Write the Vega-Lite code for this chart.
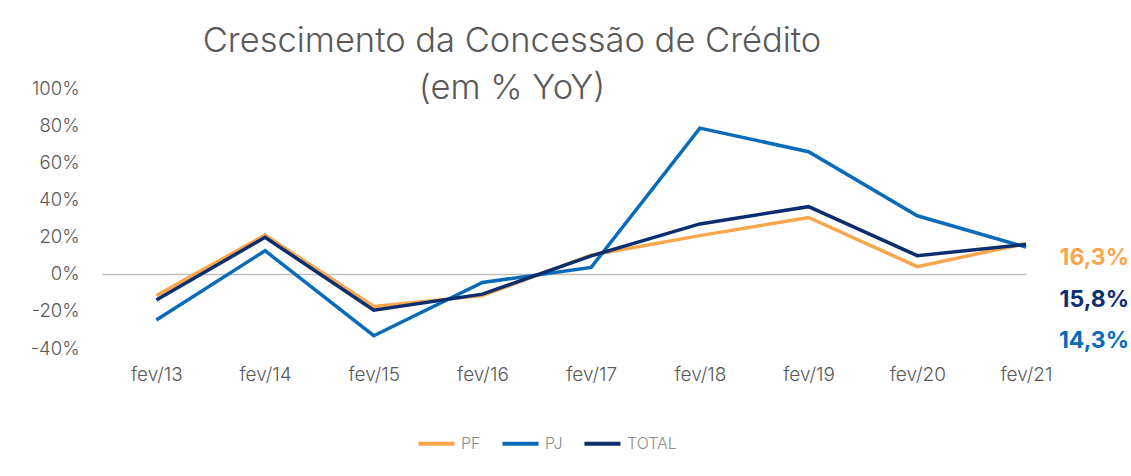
{
  "$schema": "https://vega.github.io/schema/vega-lite/v6.json",
  "width": 924,
  "height": 260,
  "autosize": {"type": "none"},
  "padding": {"left": 102, "top": 88, "right": 105, "bottom": 128},
  "background": "white",
  "config": {"view": {"stroke": null}, "font": "Inter"},
  "title": {
    "text": ["Crescimento da Concessão de Crédito", "(em % YoY)"],
    "fontSize": 34.5,
    "fontWeight": 300,
    "color": "#595959",
    "lineHeight": 47,
    "anchor": "middle",
    "dx": -52,
    "offset": -27
  },
  "data": {
    "values": [
      {"ano": 2013, "serie": "PF", "valor": -11.8},
      {"ano": 2014, "serie": "PF", "valor": 20.8},
      {"ano": 2015, "serie": "PF", "valor": -17.6},
      {"ano": 2016, "serie": "PF", "valor": -11.8},
      {"ano": 2017, "serie": "PF", "valor": 10.0},
      {"ano": 2018, "serie": "PF", "valor": 20.5},
      {"ano": 2019, "serie": "PF", "valor": 30.3},
      {"ano": 2020, "serie": "PF", "valor": 3.8},
      {"ano": 2021, "serie": "PF", "valor": 16.3},
      {"ano": 2013, "serie": "PJ", "valor": -24.9},
      {"ano": 2014, "serie": "PJ", "valor": 12.4},
      {"ano": 2015, "serie": "PJ", "valor": -33.4},
      {"ano": 2016, "serie": "PJ", "valor": -4.7},
      {"ano": 2017, "serie": "PJ", "valor": 3.4},
      {"ano": 2018, "serie": "PJ", "valor": 78.4},
      {"ano": 2019, "serie": "PJ", "valor": 65.7},
      {"ano": 2020, "serie": "PJ", "valor": 31.2},
      {"ano": 2021, "serie": "PJ", "valor": 14.3},
      {"ano": 2013, "serie": "TOTAL", "valor": -14.2},
      {"ano": 2014, "serie": "TOTAL", "valor": 19.6},
      {"ano": 2015, "serie": "TOTAL", "valor": -19.6},
      {"ano": 2016, "serie": "TOTAL", "valor": -11.0},
      {"ano": 2017, "serie": "TOTAL", "valor": 9.6},
      {"ano": 2018, "serie": "TOTAL", "valor": 26.8},
      {"ano": 2019, "serie": "TOTAL", "valor": 36.1},
      {"ano": 2020, "serie": "TOTAL", "valor": 9.7},
      {"ano": 2021, "serie": "TOTAL", "valor": 15.8}
    ]
  },
  "encoding": {
    "x": {
      "field": "ano",
      "type": "quantitative",
      "scale": {"domain": [2012.5, 2021], "nice": false, "zero": false},
      "axis": {
        "title": null,
        "values": [2013, 2014, 2015, 2016, 2017, 2018, 2019, 2020, 2021],
        "labelExpr": "'fev/' + slice(toString(datum.value), 2)",
        "labelFlush": false,
        "labelBound": false,
        "grid": false,
        "domain": false,
        "ticks": false,
        "labelFontSize": 19,
        "labelFontWeight": 300,
        "labelColor": "#595959",
        "labelPadding": 17
      }
    },
    "y": {
      "field": "valor",
      "type": "quantitative",
      "scale": {"domain": [-40, 100], "nice": false, "zero": false},
      "axis": {
        "title": null,
        "values": [-40, -20, 0, 20, 40, 60, 80, 100],
        "labelExpr": "datum.value + '%'",
        "domain": false,
        "ticks": false,
        "grid": true,
        "gridColor": "#bfbfbf",
        "gridWidth": 1.5,
        "gridOpacity": {"condition": {"test": "datum.value === 0", "value": 1}, "value": 0},
        "labelFontSize": 18.5,
        "labelFontWeight": 300,
        "labelColor": "#595959",
        "labelPadding": 23
      }
    }
  },
  "layer": [
    {
      "mark": {"type": "line", "strokeWidth": 3.5},
      "encoding": {
        "color": {
          "field": "serie",
          "type": "nominal",
          "scale": {"domain": ["PF", "PJ", "TOTAL"], "range": ["#F9A54B", "#0A6BB8", "#0B2E6F"]},
          "legend": {
            "title": null,
            "orient": "none",
            "legendX": 314,
            "legendY": 335,
            "direction": "horizontal",
            "symbolType": "stroke",
            "symbolStrokeWidth": 4,
            "symbolSize": 1300,
            "labelFontSize": 16,
            "labelFontWeight": 300,
            "labelColor": "#8c8c8c",
            "labelOffset": 4,
            "columnPadding": 13
          }
        }
      }
    },
    {
      "transform": [
        {"filter": "datum.ano === 2021 && datum.serie === 'PF'"},
        {"calculate": "replace(format(datum.valor, '.1f'), '.', ',') + '%'", "as": "rotulo"}
      ],
      "mark": {"type": "text", "align": "right", "baseline": "middle", "dx": 103, "dy": 15, "fontSize": 23, "fontWeight": "bold", "color": "#F9A54B"},
      "encoding": {"text": {"field": "rotulo"}}
    },
    {
      "transform": [
        {"filter": "datum.ano === 2021 && datum.serie === 'TOTAL'"},
        {"calculate": "replace(format(datum.valor, '.1f'), '.', ',') + '%'", "as": "rotulo"}
      ],
      "mark": {"type": "text", "align": "right", "baseline": "middle", "dx": 103, "dy": 56, "fontSize": 23, "fontWeight": "bold", "color": "#0B2E6F"},
      "encoding": {"text": {"field": "rotulo"}}
    },
    {
      "transform": [
        {"filter": "datum.ano === 2021 && datum.serie === 'PJ'"},
        {"calculate": "replace(format(datum.valor, '.1f'), '.', ',') + '%'", "as": "rotulo"}
      ],
      "mark": {"type": "text", "align": "right", "baseline": "middle", "dx": 103, "dy": 94, "fontSize": 23, "fontWeight": "bold", "color": "#0A6BB8"},
      "encoding": {"text": {"field": "rotulo"}}
    }
  ]
}
